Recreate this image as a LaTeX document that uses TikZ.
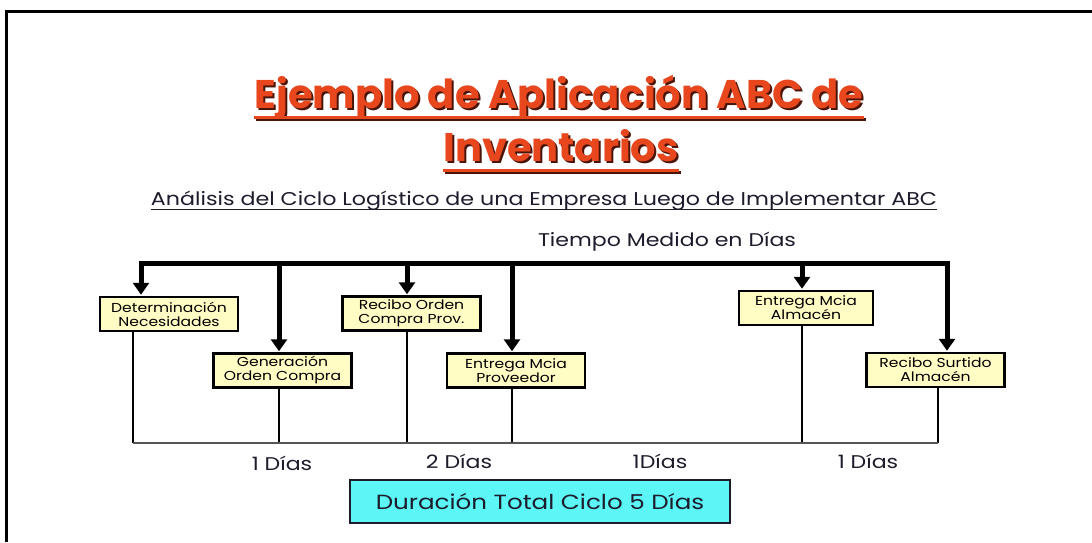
\documentclass[tikz,border=0pt]{standalone}
\usepackage{fontspec}
\setmainfont{Poppins}
\newfontfamily\widefont[FakeStretch=1.2]{Poppins}
\usetikzlibrary{arrows.meta}
\definecolor{titlered}{HTML}{E8471E}
\definecolor{shadowbrown}{HTML}{4A1508}
\definecolor{boxyellow}{HTML}{FFFCC4}
\definecolor{cyanbox}{HTML}{5CF6F6}
\definecolor{textdark}{HTML}{1C1C2C}
\definecolor{basegray}{HTML}{555555}
\begin{document}
\begin{tikzpicture}[x=1pt,y=-1pt,
 stepbox/.style={draw=black, line width=2.5pt, fill=boxyellow, minimum width=138pt, minimum height=34pt, inner sep=0pt, align=center, font=\widefont\fontsize{13}{14}\selectfont},
 bar/.style={line width=5pt, line cap=rect},
 downarrow/.style={line width=5pt, -{Triangle[width=16pt,length=12pt]}},
 leg/.style={line width=2.5pt},
 days/.style={font=\widefont\fontsize{18.4}{20}\selectfont, text=textdark},
 titletext/.style={font=\fontsize{40}{44}\selectfont\bfseries, inner sep=0pt, anchor=base},
]
\useasboundingbox (0,0) rectangle (1092,542);
\fill[white] (0,0) rectangle (1092,542);
\draw[line width=3pt] (1092,11) -- (6,11) -- (6,542);

% title with shadow
\node[titletext, text=shadowbrown] (t1s) at (561,110.5) {Ejemplo de Aplicación ABC de};
\draw[shadowbrown, line width=2.5pt] ([yshift=-9pt]t1s.base west) -- ([yshift=-9pt]t1s.base east);
\node[titletext, text=titlered] (t1) at (559,108.5) {Ejemplo de Aplicación ABC de};
\draw[titlered, line width=2.5pt] ([yshift=-9pt]t1.base west) -- ([yshift=-9pt]t1.base east);
\node[titletext, text=shadowbrown] (t2s) at (563,163.5) {Inventarios};
\draw[shadowbrown, line width=2.5pt] ([yshift=-9pt]t2s.base west) -- ([yshift=-9pt]t2s.base east);
\node[titletext, text=titlered] (t2) at (561,161.5) {Inventarios};
\draw[titlered, line width=2.5pt] ([yshift=-9pt]t2.base west) -- ([yshift=-9pt]t2.base east);

% subtitle
\node[font=\widefont\fontsize{18.5}{20}\selectfont, text=textdark, inner sep=0pt, anchor=base] (sub) at (544,205) {Análisis del Ciclo Logístico de una Empresa Luego de Implementar ABC};
\draw[textdark, line width=1.2pt] ([yshift=-4.5pt]sub.base west) -- ([yshift=-4.5pt]sub.base east);
\node[font=\widefont\fontsize{18.4}{20}\selectfont, text=textdark, inner sep=0pt, anchor=base] (tiempo) at (667,246) {Tiempo Medido en Días};

% boxes
\node[stepbox] (b1) at (169,314) {Determinación\\Necesidades};
\node[stepbox] (b2) at (282.5,370.5) {Generación\\Orden Compra};
\node[stepbox] (b3) at (411.5,313.5) {Recibo Orden\\Compra Prov.};
\node[stepbox] (b4) at (516,370.5) {Entrega Mcia\\Proveedor};
\node[stepbox, minimum width=134pt] (b5) at (806,308) {Entrega Mcia\\Almacén};
\node[stepbox] (b6) at (935.5,370) {Recibo Surtido\\Almacén};

% top bar
\coordinate (a1) at (141,263);
\coordinate (a2) at (279,263);
\coordinate (a3) at (407,263);
\coordinate (a4) at (512,263);
\coordinate (a5) at (802,263);
\coordinate (a6) at (947,263);
\draw[bar] (a1) -- (a6);
\foreach \i in {1,...,6}{
  \draw[downarrow] (a\i) -- ([yshift=1pt]b\i.north -| a\i);
}

% legs and baseline
\coordinate (g1) at (133,443);
\coordinate (g2) at (279,443);
\coordinate (g3) at (407,443);
\coordinate (g4) at (512,443);
\coordinate (g5) at (802,443);
\coordinate (g6) at (938,443);
\foreach \i in {1,...,6}{
  \draw[leg] (b\i.south -| g\i) -- (g\i);
}
\draw[basegray, line width=2pt] (g1) -- (g6);

% day labels
\node[days] (d1) at (282,463) {1 Días};
\node[days] (d2) at (459,461) {2 Días};
\node[days] (d3) at (660,461) {1Días};
\node[days] (d4) at (868,461) {1 Días};

% total
\node[draw=textdark, line width=2pt, fill=cyanbox, minimum width=380pt, minimum height=43pt, inner sep=0pt, font=\widefont\fontsize{20.5}{22}\selectfont, text=textdark] (tot) at (540,501.5) {Duración Total Ciclo 5 Días};
\end{tikzpicture}
\end{document}
